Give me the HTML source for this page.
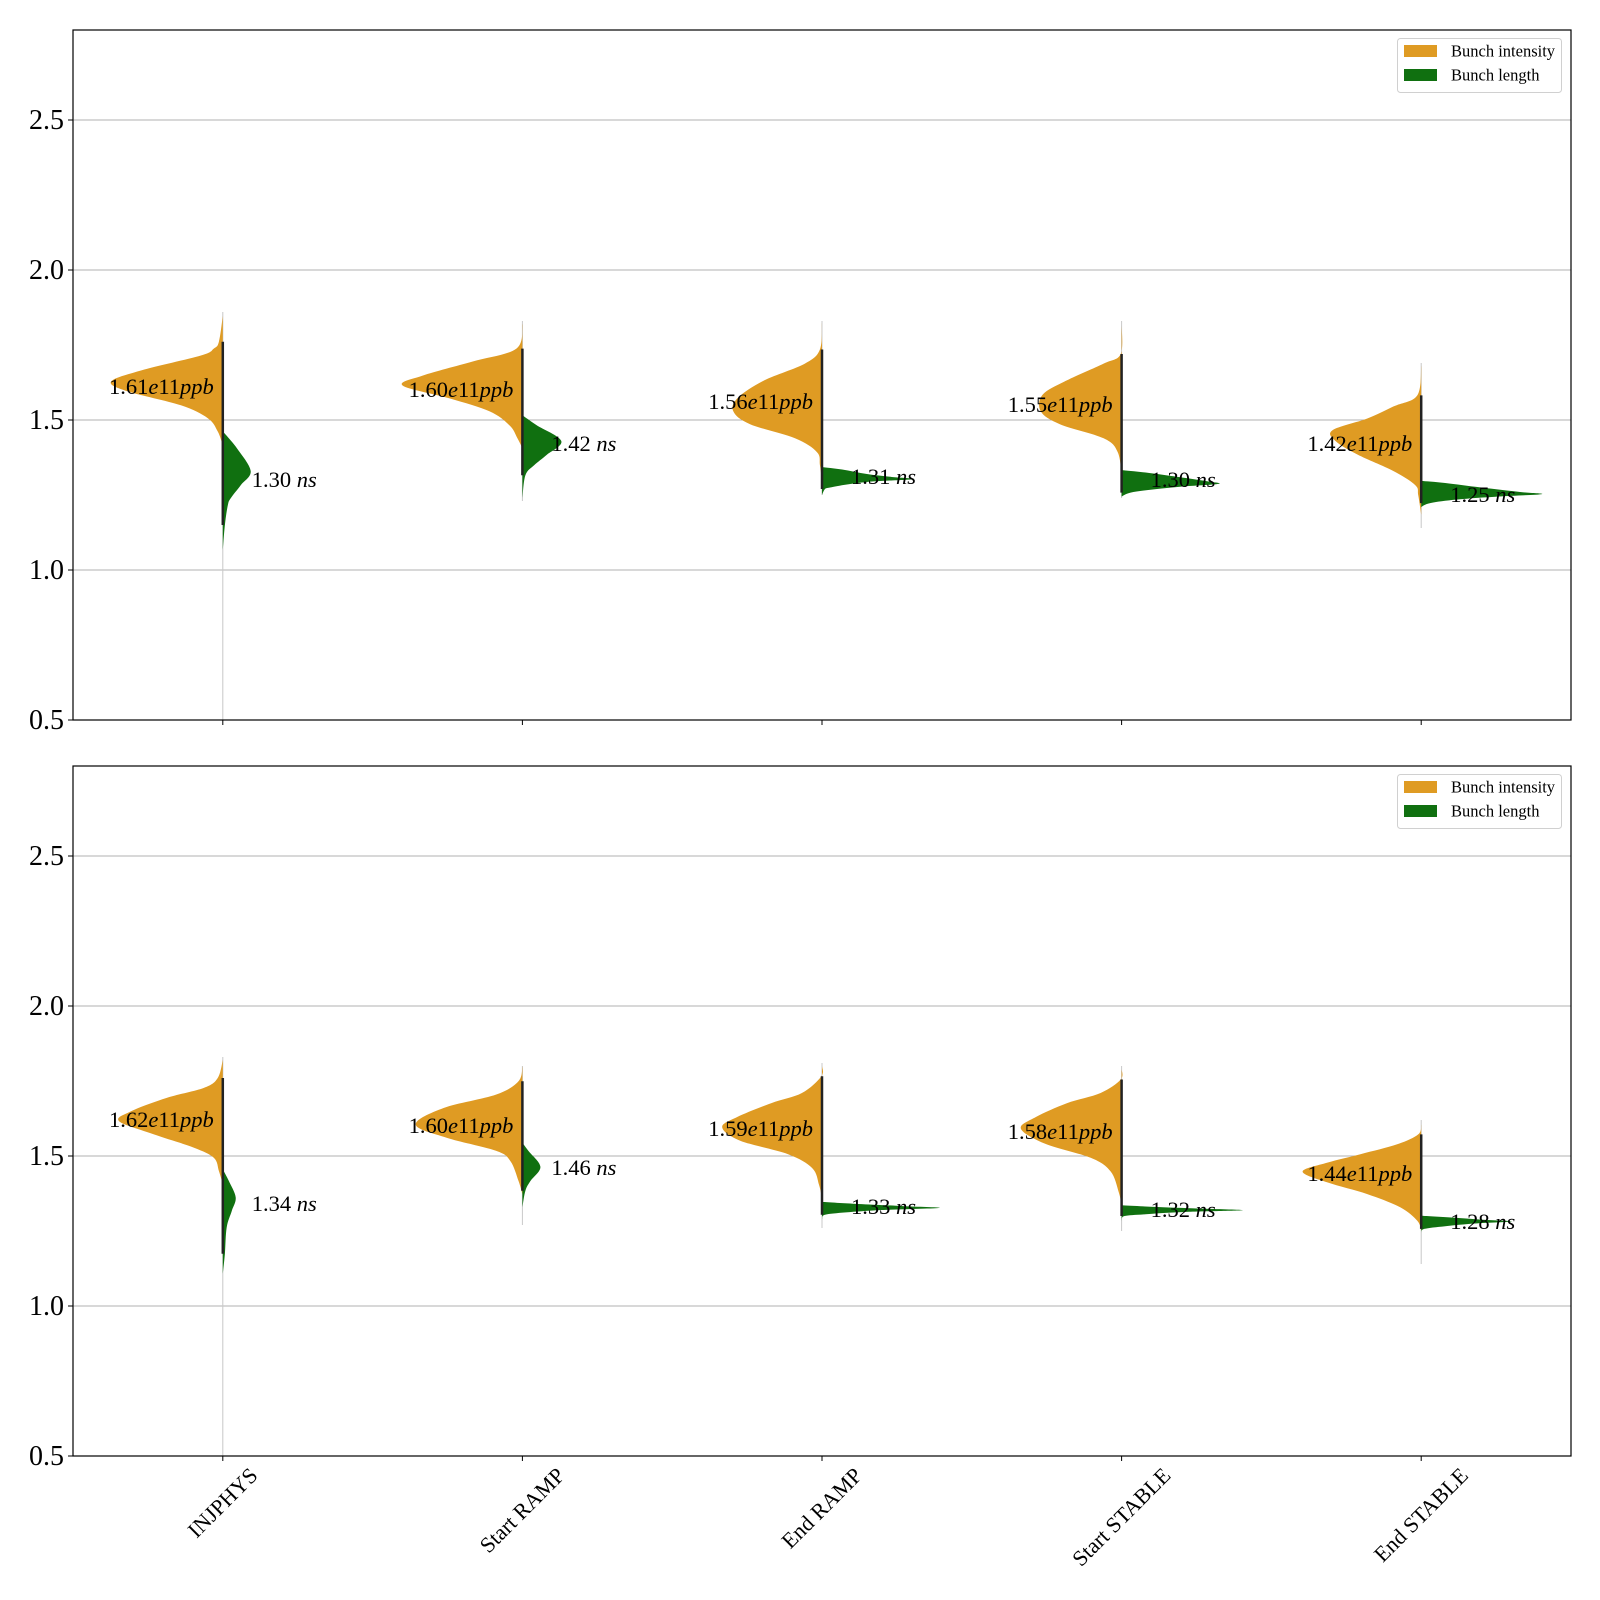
<!DOCTYPE html>
<html><head><meta charset="utf-8">
<style>
html,body{margin:0;padding:0;background:#fff;}
svg{display:block;font-family:"Liberation Serif","DejaVu Serif",serif;}
</style></head>
<body>
<svg id="chart" width="1600" height="1600" viewBox="0 0 1600 1600" xmlns="http://www.w3.org/2000/svg"></svg>
<script>
// ---- data ----
const categories = ["INJPHYS","Start RAMP","End RAMP","Start STABLE","End STABLE"];
const seriesNames = ["Bunch intensity","Bunch length"];
const yTicks = [0.5,1.0,1.5,2.0,2.5];
const yTickLabels = ["0.5","1.0","1.5","2.0","2.5"];

const p1IntensityMedian = [1.61,1.60,1.56,1.55,1.42];
const p1LengthMedian = [1.30,1.42,1.31,1.30,1.25];
const p1IntensityLabel = ["1.61","1.60","1.56","1.55","1.42"];
const p1LengthLabel = ["1.30","1.42","1.31","1.30","1.25"];
const p2IntensityMedian = [1.62,1.60,1.59,1.58,1.44];
const p2LengthMedian = [1.34,1.46,1.33,1.32,1.28];
const p2IntensityLabel = ["1.62","1.60","1.59","1.58","1.44"];
const p2LengthLabel = ["1.34","1.46","1.33","1.32","1.28"];

const p1IntVals = [
 [1.847,1.761,1.738,1.715,1.665,1.628,1.595,1.549,1.506,1.462,1.416],
 [1.821,1.738,1.695,1.648,1.615,1.572,1.529,1.482,1.44,1.406],
 [1.824,1.735,1.688,1.632,1.575,1.529,1.486,1.439,1.393,1.35,1.293],
 [1.819,1.72,1.688,1.632,1.585,1.529,1.486,1.439,1.393,1.316],
 [1.682,1.582,1.545,1.505,1.466,1.43,1.385,1.33,1.283,1.25,1.184]];
const p1IntW = [
 [0,0.013,0.03,0.073,0.273,0.373,0.316,0.14,0.05,0.017,0],
 [0,0.02,0.166,0.333,0.4,0.243,0.11,0.043,0.017,0],
 [0,0.007,0.057,0.193,0.28,0.296,0.24,0.09,0.017,0.007,0],
 [0,0.003,0.06,0.183,0.263,0.27,0.206,0.06,0.013,0],
 [0,0.013,0.093,0.18,0.296,0.286,0.213,0.093,0.02,0.01,0]];
const p1LenVals = [
 [1.462,1.406,1.33,1.283,1.24,1.217,1.15,1.064],
 [1.516,1.483,1.43,1.383,1.35,1.316,1.24],
 [1.343,1.335,1.32,1.31,1.303,1.295,1.285,1.275,1.27,1.25],
 [1.333,1.325,1.31,1.295,1.287,1.278,1.268,1.258,1.245],
 [1.297,1.29,1.275,1.26,1.253,1.245,1.235,1.223,1.21]];
const p1LenW = [
 [0,0.047,0.093,0.06,0.027,0.017,0.007,0],
 [0,0.047,0.13,0.08,0.04,0.01,0],
 [0,0.067,0.15,0.233,0.306,0.166,0.083,0.027,0.01,0],
 [0,0.08,0.19,0.29,0.323,0.2,0.1,0.03,0],
 [0,0.08,0.2,0.33,0.403,0.26,0.12,0.03,0]];
const p2IntVals = [
 [1.821,1.76,1.727,1.694,1.649,1.616,1.572,1.528,1.494,1.45,1.406],
 [1.799,1.749,1.705,1.66,1.605,1.561,1.517,1.483,1.417,1.373],
 [1.80,1.766,1.71,1.676,1.63,1.596,1.551,1.506,1.46,1.404,1.358],
 [1.789,1.755,1.71,1.676,1.63,1.591,1.54,1.494,1.449,1.381,1.336],
 [1.605,1.572,1.539,1.506,1.478,1.448,1.412,1.373,1.329,1.284,1.251]];
const p2IntW = [
 [0,0.017,0.063,0.186,0.306,0.346,0.23,0.097,0.03,0.013,0],
 [0,0.013,0.087,0.263,0.356,0.253,0.087,0.04,0.013,0],
 [0,0.002,0.067,0.17,0.283,0.333,0.273,0.113,0.033,0.01,0],
 [0,0.003,0.07,0.183,0.286,0.336,0.253,0.103,0.037,0.01,0],
 [0,0.01,0.08,0.203,0.313,0.396,0.313,0.18,0.07,0.013,0]];
const p2LenVals = [
 [1.456,1.417,1.362,1.317,1.262,1.174,1.107],
 [1.544,1.517,1.464,1.417,1.384,1.329],
 [1.347,1.34,1.333,1.327,1.32,1.312,1.304,1.29],
 [1.336,1.33,1.324,1.319,1.313,1.306,1.30,1.285],
 [1.301,1.295,1.288,1.282,1.275,1.266,1.257,1.245]];
const p2LenW = [
 [0,0.02,0.043,0.03,0.013,0.007,0],
 [0,0.02,0.06,0.027,0.01,0],
 [0,0.12,0.27,0.393,0.2,0.08,0.01,0],
 [0,0.12,0.28,0.403,0.2,0.08,0.01,0],
 [0,0.1,0.2,0.303,0.18,0.08,0.01,0]];
const p1Min = [0.5,1.23,1.25,1.24,1.14];
const p1Max = [1.86,1.83,1.83,1.83,1.69];
const p2Min = [0.5,1.27,1.26,1.25,1.14];
const p2Max = [1.83,1.80,1.81,1.80,1.62];

// ---- layout ----
const svg = document.getElementById('chart');
const NS = 'http://www.w3.org/2000/svg';
const AX_L = 73, AX_R = 1571;
const Y_MIN = 0.5, Y_MAX = 2.8;
const ORANGE = '#DF9B23', GREEN = '#107010';
function mk(tag, attrs, parent){ const e=document.createElementNS(NS,tag); for(const k in attrs) e.setAttribute(k,attrs[k]); (parent||svg).appendChild(e); return e; }
const band = (AX_R-AX_L)/categories.length;
function xPos(i){ return AX_L + band*(i+0.5); }

// smooth curve through points (Catmull-Rom -> cubic bezier)
function smooth(pts){
  let s='';
  for(let i=0;i<pts.length-1;i++){
    const p0=pts[Math.max(0,i-1)], p1=pts[i], p2=pts[i+1], p3=pts[Math.min(pts.length-1,i+2)];
    const c1=[p1[0]+(p2[0]-p0[0])/6, p1[1]+(p2[1]-p0[1])/6];
    const c2=[p2[0]-(p3[0]-p1[0])/6, p2[1]-(p3[1]-p1[1])/6];
    s+=' C'+c1[0].toFixed(1)+','+c1[1].toFixed(1)+' '+c2[0].toFixed(1)+','+c2[1].toFixed(1)+' '+p2[0].toFixed(1)+','+p2[1].toFixed(1);
  }
  return s;
}

function drawPanel(top, bottom, d, pidx){
  const g = mk('g',{});
  
  
  const yPos = v => bottom - (v - Y_MIN)/(Y_MAX - Y_MIN)*(bottom-top);
  yTicks.forEach((t,k)=>{
    const y=yPos(t);
    if(k>0){ const gl=mk('line',{x1:AX_L,x2:AX_R,y1:y,y2:y,stroke:'#b0b0b0','stroke-width':1},g);
        }
    const tk=mk('line',{x1:AX_L-5,x2:AX_L,y1:y,y2:y,stroke:'#000','stroke-width':1},g);
     
    const tl=mk('text',{x:AX_L-9,y:y+9,'text-anchor':'end','font-size':28,fill:'#000'},g);
    tl.textContent=yTickLabels[k];
     
  });
  categories.forEach((c,i)=>{
    const x=xPos(i);
    const tk=mk('line',{x1:x,x2:x,y1:bottom,y2:bottom+5,stroke:'#000','stroke-width':1},g);
     
    const wl=mk('line',{x1:x,x2:x,y1:yPos(d.max[i]),y2:yPos(d.min[i]),stroke:'#c8c8c8','stroke-width':1},g);
     
    let pts=d.iv[i].map((v,k)=>[x - d.iw[i][k]*band, yPos(v)]);
    let path='M'+pts[0][0].toFixed(1)+','+pts[0][1].toFixed(1)+smooth(pts)+'Z';
    const pi=mk('path',{d:path,fill:ORANGE},g);
     
    pts=d.lv[i].map((v,k)=>[x + d.lw[i][k]*band, yPos(v)]);
    path='M'+pts[0][0].toFixed(1)+','+pts[0][1].toFixed(1)+smooth(pts)+'Z';
    const pl=mk('path',{d:path,fill:GREEN},g);
     
    const topV=d.iv[i][1], botV=d.lv[i][d.lv[i].length-2];
    const dl=mk('line',{x1:x,x2:x,y1:yPos(topV),y2:yPos(botV),stroke:'#222','stroke-width':2.5},g);
     
    const li=mk('text',{x:x-9,y:yPos(d.im[i])+7,'text-anchor':'end','font-size':22.5,fill:'#000'},g);
    li.innerHTML=d.il[i]+'<tspan font-style="italic">e</tspan>11<tspan font-style="italic">ppb</tspan>';
     
    const ll=mk('text',{x:x+29,y:yPos(d.lm[i])+7,'text-anchor':'start','font-size':22.5,fill:'#000'},g);
    ll.innerHTML=d.ll[i]+' <tspan font-style="italic">ns</tspan>';
     
  });
  const fr=mk('rect',{x:AX_L,y:top,width:AX_R-AX_L,height:bottom-top,fill:'none',stroke:'#000','stroke-width':1.2},g);
   
  const lg=mk('g',{},g);
   
  mk('rect',{x:1397.5,y:top+8.5,width:164,height:54,rx:3,fill:'#fff',stroke:'#d0d0d0','stroke-width':1},lg);
  [ORANGE,GREEN].forEach((col,k)=>{
    const e=mk('g',{},lg);
     
    mk('rect',{x:1404,y:top+15+k*24,width:33,height:12,fill:col},e);
    const t=mk('text',{x:1451,y:top+26.5+k*24,'font-size':16.5,fill:'#000'},e);
    t.textContent=seriesNames[k];
  });
}

drawPanel(30,720,{iv:p1IntVals,iw:p1IntW,lv:p1LenVals,lw:p1LenW,im:p1IntensityMedian,lm:p1LengthMedian,il:p1IntensityLabel,ll:p1LengthLabel,min:p1Min,max:p1Max},1);
drawPanel(766,1456,{iv:p2IntVals,iw:p2IntW,lv:p2LenVals,lw:p2LenW,im:p2IntensityMedian,lm:p2LengthMedian,il:p2IntensityLabel,ll:p2LengthLabel,min:p2Min,max:p2Max},2);

categories.forEach((c,i)=>{
  const x=xPos(i);
  const t=mk('text',{x:x,y:0,'text-anchor':'middle','font-size':22,fill:'#000'});
  t.textContent=c;
  
  
  const w=t.getComputedTextLength();
  const half=(w+22)/(2*Math.SQRT2);
  const cy=1456+8+half;
  t.setAttribute('y',cy+7);
  t.setAttribute('transform','rotate(-45 '+x+' '+cy+')');
});
</script>
</body></html>
